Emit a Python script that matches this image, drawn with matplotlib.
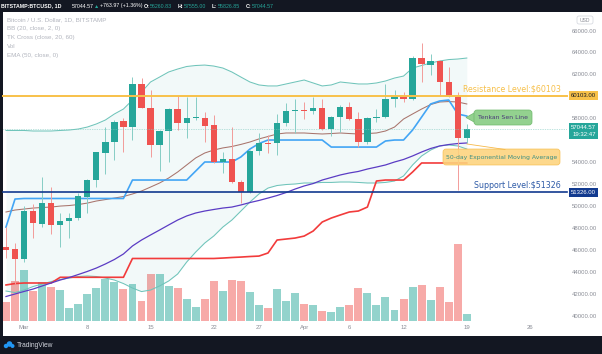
import numpy as np
import matplotlib
matplotlib.use('Agg')
import matplotlib.pyplot as plt
from matplotlib import transforms
from matplotlib.patches import Rectangle, FancyBboxPatch, Polygon, Circle

plt.rcParams['font.family'] = ['Liberation Sans', 'DejaVu Sans']

# BTCUSD daily, 2021-02-27 .. 2021-04-19
opens = [46370, 46130, 45250, 49620, 48440, 50380, 48310, 48740, 48980, 50920,
         52440, 54920, 55930, 57840, 57290, 61180, 58960, 55630, 56930, 58900,
         57660, 58080, 58080, 57420, 54110, 54380, 52290, 51320, 55080, 55780,
         55780, 57600, 58750, 58800, 58750, 58990, 57050, 58200, 59110, 57990,
         55930, 58080, 58150, 59780, 59970, 59840, 63540, 62930, 63240, 61390,
         60020, 56260.83]
highs = [48200, 46680, 50070, 50260, 52690, 51780, 49470, 49470, 51290, 52530,
         55000, 57290, 57900, 58050, 61790, 61700, 60630, 57000, 58950, 60090,
         60020, 59970, 58660, 58360, 55020, 57230, 52400, 55150, 56690, 56500,
         58450, 59420, 59780, 59510, 60020, 59780, 58300, 59270, 59510, 58660,
         58150, 58870, 61180, 60630, 60480, 63720, 64880, 63900, 63400, 62700,
         60480, 57555.00]
lows = [45300, 43000, 45000, 47130, 48190, 47530, 46370, 47130, 48800, 49410,
        51830, 52990, 54260, 55020, 56080, 58950, 54560, 53290, 54110, 56990,
        56240, 57900, 55930, 54000, 53050, 52200, 50320, 51250, 54720, 54900,
        54720, 57400, 56750, 57990, 58450, 56990, 56450, 56840, 57900, 55420,
        55710, 57750, 58050, 59110, 59570, 59700, 61390, 62000, 60110, 60020,
        51500, 55826.85]
closes = [46100, 45250, 49620, 48500, 50380, 48380, 48740, 48990, 51030, 52440,
          54960, 55870, 57750, 57290, 61180, 59020, 55630, 56930, 58900, 57660,
          58080, 58150, 57360, 54110, 54380, 52290, 51320, 55080, 55780, 55700,
          57600, 58750, 58800, 58700, 58990, 57050, 58200, 59110, 57990, 55930,
          58080, 58150, 59780, 59970, 59840, 63540, 63000, 63240, 61390, 60110,
          56290, 57044.57]
volumes = [6070, 13100, 16730, 9800, 12870, 11020, 10130, 4290, 5510, 8710,
           10690, 13660, 12870, 10360, 12110, 6500, 15310, 15310, 11450, 10790,
           7060, 4620, 7160, 13100, 9800, 13430, 13100, 9570, 5180, 4190,
           10460, 6600, 9140, 5510, 5080, 3200, 2770, 4620, 5280, 10690,
           9040, 5180, 7720, 3530, 7260, 11220, 11780, 6830, 11220, 6070,
           25310, 2210]

bb_upper = [56950, 56950, 56950, 56900, 56900, 56900, 56950, 56990, 57080, 57260,
            57540, 57900, 58450, 58900, 59720, 60450, 61360, 61810, 62270, 62540,
            62770, 62860, 62900, 62810, 62630, 62270, 61810, 61360, 61090, 61000,
            61000, 61180, 61360, 61540, 61270, 61000, 61090, 61360, 61270, 61180,
            61180, 61270, 61450, 61720, 61900, 62630, 62860, 63090, 63270, 63400,
            63450, 63540]
bb_basis = [49530, 49710, 49800, 49890, 49940, 49980, 50070, 50120, 50210, 50340,
            50530, 50660, 50800, 50940, 51170, 51440, 51800, 52170, 52620, 53170,
            53810, 54450, 54900, 55170, 55360, 55490, 55680, 55900, 56180, 56400,
            56630, 56720, 56720, 56720, 56670, 56630, 56670, 56720, 56670, 56630,
            56670, 56720, 56900, 57260, 57990, 58450, 58900, 59310, 59540, 59580,
            59540, 59360]
bb_lower = [42340, 42200, 42430, 42750, 42980, 43200, 43390, 43520, 43660, 43710,
            43660, 43520, 43340, 43020, 42610, 42290, 42430, 42800, 43250, 43890,
            44980, 45890, 46710, 47350, 48160, 48800, 49620, 50440, 51170, 51710,
            51940, 52030, 52080, 52170, 52170, 52220, 52220, 52260, 52260, 52220,
            52170, 52170, 52220, 52350, 52810, 53810, 54630, 55170, 55540, 55630,
            55540, 55260]
tk_fast = [48160, 50710, 50760, 50760, 50760, 50760, 50760, 50760, 50760, 50760,
           50760, 50760, 50760, 50760, 52440, 52440, 52440, 52440, 52440, 52440,
           52440, 53260, 54080, 54080, 54080, 54080, 54540, 55260, 55760, 56080,
           56080, 56080, 56080, 56080, 56080, 56080, 55440, 55440, 55440, 55440,
           55440, 55440, 55990, 56080, 56080, 56990, 58170, 59360, 59630, 59720,
           58450, 58260]
tk_slow = [42890, 43020, 43070, 43070, 43070, 43070, 43590, 43590, 43590, 43590,
           43590, 43590, 43590, 43590, 45300, 45300, 45300, 45300, 45300, 45300,
           45300, 45300, 45300, 45300, 45340, 45390, 45430, 45480, 45520, 45800,
           46980, 47070, 47160, 47340, 47800, 48620, 48980, 49260, 49530, 49620,
           49980, 52350, 52440, 52440, 52440, 53170, 53990, 53990, 53990, 53990,
           53990, 53990]
ema50 = [41840, 42070, 42300, 42520, 42800, 43070, 43340, 43570, 43840, 44120,
         44430, 44800, 45210, 45710, 46440, 46980, 47440, 47890, 48350, 48800,
         49170, 49440, 49620, 49760, 49890, 49980, 50170, 50390, 50580, 50800,
         51030, 51300, 51620, 51900, 52120, 52440, 52670, 52900, 53080, 53220,
         53440, 53620, 53810, 54080, 54310, 54630, 54990, 55310, 55540, 55670,
         55760, 55810]

tick_pos = [2, 9, 16, 23, 28, 33, 38, 44, 51, 58]
tick_labels = ['Mar', '8', '15', '22', '27', 'Apr', '6', '12', '19', '26']
price_ticks = [40000, 42000, 44000, 46000, 48000, 50000, 52000, 54000, 58000,
               62000, 64000, 66000]
resistance = 60103
support = 51326
last_price = 57044.57

W, H = 602, 354
opens = np.array(opens)
closes = np.array(closes)
x = np.arange(len(closes))
up = closes >= opens

fig = plt.figure(figsize=(W / 100, H / 100), dpi=100)
fig.patch.set_facecolor('#131722')

# pixel layer under the chart (white pane)
bg = fig.add_axes([0, 0, 1, 1])
bg.set_xlim(0, W)
bg.set_ylim(H, 0)
bg.axis('off')
bg.add_patch(Rectangle((3, 12), W - 3, 324, facecolor='white', edgecolor='none'))

rect = [3 / W, 1 - 322 / H, 534 / W, 310 / H]
vol_ax = fig.add_axes(rect)
ax = fig.add_axes(rect, sharex=vol_ax)
for a in (vol_ax, ax):
    a.patch.set_visible(False)
    for s in a.spines.values():
        s.set_visible(False)
    a.set_yticks([])
ax.set_xlim(-0.33, 58.77)
ax.set_ylim(39521, 67729)

# volume
R = max(volumes) / 0.2474
vol_ax.set_ylim(-0.0042 * R, 0.9958 * R)
vol_ax.bar(x, volumes, width=0.88, linewidth=0,
           color=np.where(up, '#93d3cc', '#f7aaa8'))
vol_ax.tick_params(labelbottom=False, length=0)

# Bollinger bands
ax.fill_between(x, bb_lower, bb_upper, color='#26a69a', alpha=0.06, lw=0, zorder=1)
ax.plot(x, bb_upper, color='#6fc4ba', lw=0.75, zorder=2)
ax.plot(x, bb_lower, color='#6fc4ba', lw=0.75, zorder=2)
ax.plot(x, bb_basis, color='#a8746c', lw=0.75, zorder=2)
# TK cross + EMA
ax.plot(x, tk_slow, color='#f23b3b', lw=1.2, zorder=3)
ax.plot(x, tk_fast, color='#42a5f5', lw=1.2, zorder=3)
ax.plot(x, ema50, color='#5b3cc4', lw=0.9, zorder=3)

# candles
body_lo = np.minimum(opens, closes)
body_h = np.maximum(np.abs(closes - opens), 80)
ax.vlines(x, lows, highs, colors=np.where(up, '#86cdc5', '#f39c9a'), lw=0.7, zorder=5)
ax.bar(x, body_h, bottom=body_lo, width=0.7, linewidth=0,
       color=np.where(up, '#26a69a', '#ef5350'), zorder=6)

ax.set_xticks(tick_pos)
ax.set_xticklabels(tick_labels, fontsize=4.3, color='#8a8d96')
ax.tick_params(axis='x', length=0, pad=2)

# pixel layer on top
top = fig.add_axes([0, 0, 1, 1])
top.set_xlim(0, W)
top.set_ylim(H, 0)
top.axis('off')
blend = transforms.blended_transform_factory(top.transData, ax.transData)

top.plot([3, 567], [last_price] * 2, transform=blend, color='#7cc8bf', lw=0.5, ls=(0, (1, 1.5)))
top.plot([3, 567], [resistance] * 2, transform=blend, color='#f8c14a', lw=1.4)
top.plot([3, 567], [support] * 2, transform=blend, color='#123a8f', lw=1.2)

for p in price_ticks:
    top.text(597, p, f'{p:.2f}', transform=blend, ha='right', va='center',
             fontsize=4.3, color='#8a8d96')
top.text(596, resistance, f'{resistance:.2f}', transform=blend, ha='right', va='center',
         fontsize=4.3, color='#131722',
         bbox=dict(boxstyle='square,pad=0.35', fc='#f8c14a', ec='none'))
top.text(596, support, f'{support:.2f}', transform=blend, ha='right', va='center',
         fontsize=4.3, color='white',
         bbox=dict(boxstyle='square,pad=0.35', fc='#123a8f', ec='none'))
top.annotate(f'{last_price:.2f}\n19:32:47', xy=(596, last_price), xycoords=blend,
             xytext=(0, 3.2), textcoords='offset points', ha='right', va='top',
             fontsize=4.3, color='white', linespacing=1.5,
             bbox=dict(boxstyle='square,pad=0.35', fc='#26a69a', ec='none'))

# USD badge
top.add_patch(FancyBboxPatch((577, 16), 16, 8, boxstyle='round,pad=0,rounding_size=2',
                             fc='white', ec='#d1d4dc', lw=0.5))
top.text(585, 20, 'USD', ha='center', va='center', fontsize=3.6, color='#8a8d96')

# header
hdr = [(1, 'BITSTAMP:BTCUSD, 1D', 'white', 'bold'), (72, '57044.57', 'white', 'normal'),
       (94, '▲', '#26a69a', 'normal'), (100, '+763.97 (+1.36%)', 'white', 'normal'),
       (144, 'O:', 'white', 'bold'), (150, '56260.83', '#26a69a', 'normal'),
       (178, 'H:', 'white', 'bold'), (184, '57555.00', '#26a69a', 'normal'),
       (212, 'L:', 'white', 'bold'), (218, '55826.85', '#26a69a', 'normal'),
       (246, 'C:', 'white', 'bold'), (252, '57044.57', '#26a69a', 'normal')]
for hx, s, c, w in hdr:
    top.text(hx, 6, s, color=c, fontweight=w, fontsize=3.8, va='center')

legend_lines = ['Bitcoin / U.S. Dollar, 1D, BITSTAMP', 'BB (20, close, 2, 0)',
                'TK Cross (close, 20, 60)', 'Vol', 'EMA (50, close, 0)']
for k, s in enumerate(legend_lines):
    top.text(7, 20 + k * 8.8, s, color='#b2b5be', fontsize=4.5, va='center')

# annotations
top.text(463, 89, 'Resistance Level:$60103', color='#f7c04a', fontsize=5.7,
         va='center', family='DejaVu Sans')
top.text(474, 185, 'Support Level:$51326', color='#2d5aa7', fontsize=5.7,
         va='center', family='DejaVu Sans')

top.add_patch(Polygon([(475, 112.5), (466, 117.5), (475, 122.5)], closed=True,
                      fc='#93d18f', ec='#6fba6b', lw=0.5))
top.add_patch(FancyBboxPatch((474, 110), 58, 15, boxstyle='round,pad=0,rounding_size=3',
                             fc='#93d18f', ec='#6fba6b', lw=0.5))
top.text(503, 117.5, 'Tenkan Sen Line', ha='center', va='center', fontsize=4.4,
         color='#4b3a78', family='DejaVu Sans')

top.plot([467, 505], [144, 149.5], color='#f6b94a', lw=0.6)
top.add_patch(FancyBboxPatch((443, 149), 117, 16, boxstyle='round,pad=0,rounding_size=3',
                             fc='#fdd37c', ec='#f6bb4a', lw=0.5, alpha=0.88))
top.text(501.5, 157.5, '50-day Exponential Moving Average', ha='center', va='center',
         fontsize=4.4, color='#3c8f84', family='DejaVu Sans')

# footer logo
for cx, cy, r in [(6, 346, 2.2), (9.5, 344, 2.8), (12.5, 346, 2.0)]:
    top.add_patch(Circle((cx, cy), r, fc='#2196f3', ec='none'))
top.text(17, 345.5, 'TradingView', color='#d1d4dc', fontsize=4.8, va='center')

fig.savefig('out.png', dpi=100, facecolor=fig.get_facecolor())
